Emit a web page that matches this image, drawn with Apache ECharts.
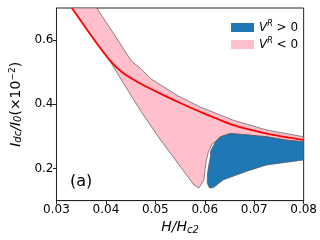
<!DOCTYPE html>
<html>
<head>
<meta charset="utf-8">
<script src="https://cdn.jsdelivr.net/npm/echarts@6/dist/echarts.min.js"></script>
<style>html,body{margin:0;padding:0;background:#fff}#c{width:320px;height:240px}</style>
</head>
<body>
<div id="c"></div>
<script>
// Red curve I_dc/I_0 vs H/Hc2
const redCurve = [[0.03311,0.700],[0.03711,0.612],[0.03972,0.5574],[0.04112,0.5312],[0.04253,0.5096],[0.04393,0.4926],[0.04553,0.4772],[0.04713,0.4633],[0.05114,0.4324],[0.05515,0.4031],[0.05916,0.3759],[0.06583,0.335],[0.07252,0.309],[0.07954,0.290],[0.08,0.289]];
// Pink region (V^R < 0): upper boundary, left to right
const pinkUpper = [[0.03812,0.700],[0.04146,0.623],[0.04513,0.535],[0.04713,0.510],[0.04914,0.479],[0.05449,0.427],[0.05916,0.391],[0.06583,0.350],[0.07252,0.320],[0.07954,0.300],[0.08,0.298]];
// Pink region lower boundary, left to right
const pinkLower = [[0.03311,0.700],[0.03711,0.612],[0.03972,0.5574],[0.04046,0.5435],[0.04413,0.451],[0.04713,0.377],[0.05114,0.287],[0.05515,0.204],[0.05781,0.1485],[0.05882,0.139],[0.05982,0.165],[0.06026,0.2225],[0.06076,0.2534],[0.06156,0.2781],[0.06216,0.2833],[0.06316,0.2988],[0.06517,0.3090],[0.06918,0.3037],[0.07252,0.2988],[0.07653,0.2883],[0.08,0.2833]];
// Blue region (V^R > 0): outline
const blueOutline = [[0.06116,0.2534],[0.06216,0.2833],[0.06316,0.2988],[0.06517,0.3090],[0.06918,0.3037],[0.07252,0.2988],[0.07653,0.2883],[0.08,0.2833],[0.08,0.2265],[0.07252,0.2111],[0.06852,0.1917],[0.06377,0.1648],[0.06176,0.1407],[0.06096,0.1392],[0.06050,0.1546],[0.06056,0.1855],[0.06082,0.2111],[0.06116,0.2381]];
const xTicks = [0.03,0.04,0.05,0.06,0.07,0.08];
const yTicks = [0.2,0.4,0.6];

const pinkPoly = pinkUpper.concat(pinkLower.slice().reverse());
const FONT = 'DejaVu Sans';

function polySeries(name, pts, color) {
  return {
    type: 'custom', name: name,
    coordinateSystem: 'cartesian2d',
    itemStyle: {color: color},
    data: [[0.05, 0.4]],
    renderItem: function (params, api) {
      return {
        type: 'polygon',
        shape: {points: pts.map(p => api.coord(p))},
        style: {fill: color, stroke: '#555', lineWidth: 0.7}
      };
    },
    clip: true, silent: true, z: 2
  };
}

const chart = echarts.init(document.getElementById('c'), null, {renderer: 'canvas'});
chart.setOption({
  animation: false,
  backgroundColor: '#fff',
  grid: {left: 55, right: 16, top: 8, bottom: 37, show: true, borderColor: '#222', borderWidth: 1, backgroundColor: 'transparent'},
  legend: {
    orient: 'vertical', left: 226, top: 15, itemWidth: 23, itemHeight: 9, itemGap: 2,
    icon: 'rect',
    data: [{name: 'pos', itemStyle: {color: '#1f77b4'}}, {name: 'neg', itemStyle: {color: '#ffc0cb'}}],
    formatter: function (n) { return n === 'pos' ? '{v|V}{s|R}{t| > 0}' : '{v|V}{s|R}{t| < 0}'; },
    textStyle: {
      fontFamily: FONT, color: '#000', fontSize: 12,
      rich: {
        v: {fontFamily: FONT, fontStyle: 'italic', fontSize: 12, color: '#000', lineHeight: 15},
        s: {fontFamily: FONT, fontStyle: 'italic', fontSize: 8, color: '#000', padding: [0, 0, 7, 0], lineHeight: 15},
        t: {fontFamily: FONT, fontSize: 12, color: '#000', lineHeight: 15}
      }
    }
  },
  xAxis: {
    type: 'value', min: 0.03, max: 0.08, interval: 0.01,
    name: '{i|H/H}{b|c2}', nameLocation: 'middle', nameGap: 15,
    nameTextStyle: {rich: {
      i: {fontFamily: FONT, fontStyle: 'italic', fontSize: 14, color: '#000'},
      b: {fontFamily: FONT, fontStyle: 'italic', fontSize: 10, color: '#000', padding: [5, 0, 0, 0]}
    }},
    axisLine: {lineStyle: {color: '#222', width: 1}},
    axisTick: {show: true, length: 3.5, lineStyle: {color: '#222'}},
    splitLine: {show: false},
    axisLabel: {fontFamily: FONT, fontSize: 12, color: '#000', margin: 3,
      formatter: v => { const t = xTicks.find(a => Math.abs(a - v) < 1e-9); return t === undefined ? '' : t.toFixed(2); }}
  },
  yAxis: {
    type: 'value', min: 0.1, max: 0.7, interval: 0.1,
    name: '{i|I}{b|dc}{i|/I}{b|0}{n|(×10}{p|−2}{n|)}', nameLocation: 'middle', nameGap: 26, nameRotate: 90,
    nameTextStyle: {rich: {
      i: {fontFamily: FONT, fontStyle: 'italic', fontSize: 14, color: '#000'},
      b: {fontFamily: FONT, fontStyle: 'italic', fontSize: 10, color: '#000', padding: [5, 0, 0, 0]},
      n: {fontFamily: FONT, fontSize: 14, color: '#000'},
      p: {fontFamily: FONT, fontSize: 9, color: '#000', padding: [0, 0, 7, 0]}
    }},
    axisLine: {show: true, lineStyle: {color: '#222', width: 1}},
    axisTick: {show: true, length: 3.5, lineStyle: {color: '#222'},
      customValues: yTicks},
    splitLine: {show: false},
    axisLabel: {fontFamily: FONT, fontSize: 12, color: '#000', margin: 3,
      customValues: yTicks, formatter: v => v.toFixed(1)}
  },
  graphic: [{type: 'text', left: 70, top: 174, style: {text: '(a)', fontFamily: FONT, fontSize: 16, fill: '#000'}, z: 10}],
  series: [
    polySeries('neg', pinkPoly, '#ffc0cb'),
    polySeries('pos', blueOutline, '#1f77b4'),
    {
      type: 'line', name: 'red', data: redCurve, smooth: 0.2, showSymbol: false, symbol: 'none',
      lineStyle: {color: '#ff0000', width: 1.8}, z: 5, silent: true
    }
  ]
});
</script>
</body>
</html>
